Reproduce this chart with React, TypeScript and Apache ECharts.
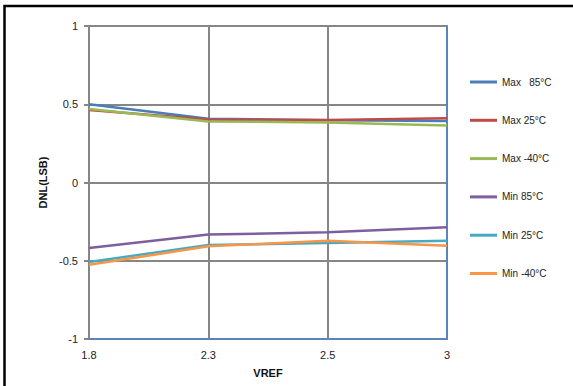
import React, { useEffect, useRef } from "react";
import * as echarts from "echarts";

const categories = ["1.8", "2.3", "2.5", "3"];
const max85 = [0.5, 0.408, 0.397, 0.393];
const max25 = [0.463, 0.402, 0.4, 0.41];
const maxM40 = [0.47, 0.39, 0.384, 0.365];
const min85 = [-0.419, -0.333, -0.318, -0.286];
const min25 = [-0.508, -0.4, -0.387, -0.372];
const minM40 = [-0.526, -0.408, -0.372, -0.404];
const seriesNames = ["Max   85°C", "Max 25°C", "Max -40°C", "Min 85°C", "Min 25°C", "Min -40°C"];
const seriesColors = ["#4a7ebb", "#be4b48", "#98b954", "#7d5fa0", "#46aac5", "#f79646"];
const seriesData = [max85, max25, maxM40, min85, min25, minM40];

export default function App() {
  const ref = useRef<HTMLDivElement>(null);
  useEffect(() => {
    if (!ref.current) return;
    const chart = echarts.init(ref.current, null, { renderer: "svg" });
    const font = "Liberation Sans, Arial, sans-serif";
    chart.setOption({
      animation: false,
      backgroundColor: "#ffffff",
      textStyle: { fontFamily: font },
      grid: { left: 89, right: 126, top: 26, bottom: 47, containLabel: false },
      legend: {
        orient: "vertical",
        left: 470,
        top: 75,
        padding: 0,
        icon: "rect",
        itemWidth: 27,
        itemHeight: 3,
        itemGap: 24.3,
        textStyle: { fontSize: 10, color: "#222", fontFamily: font, height: 14, lineHeight: 14 },
        data: seriesNames,
      },
      xAxis: {
        type: "category",
        data: categories,
        boundaryGap: false,
        name: "VREF",
        nameLocation: "middle",
        nameGap: 28,
        nameTextStyle: { fontSize: 11, fontWeight: "bold", color: "#111", fontFamily: font },
        axisLine: { show: true, onZero: false, lineStyle: { color: "#5b84b9", width: 2 } },
        axisTick: { show: false },
        axisLabel: { fontSize: 11, color: "#222", margin: 10, fontFamily: font },
        splitLine: { show: true, lineStyle: { color: "#868686", width: 2 } },
      },
      yAxis: [
        {
          type: "value",
          min: -1,
          max: 1,
          interval: 0.5,
          name: "DNL(LSB)",
          nameLocation: "middle",
          nameGap: 39,
          nameRotate: 90,
          nameTextStyle: { fontSize: 11, fontWeight: "bold", color: "#111", fontFamily: font },
          axisLine: { show: true, lineStyle: { color: "#868686", width: 2 } },
          axisTick: { show: true, length: 5, lineStyle: { color: "#868686", width: 2 } },
          axisLabel: { fontSize: 11, color: "#222", margin: 11, fontFamily: font },
          splitLine: { show: true, lineStyle: { color: "#868686", width: 2 } },
        },
        {
          type: "value",
          min: -1,
          max: 1,
          interval: 0.5,
          position: "right",
          axisLine: { show: true, lineStyle: { color: "#5b84b9", width: 2 } },
          axisTick: { show: false },
          axisLabel: { show: false },
          splitLine: { show: false },
        },
      ],
      graphic: [
        {
          type: "rect",
          shape: { x: 4.5, y: 6, width: 620, height: 420 },
          style: { fill: "none", stroke: "#000", lineWidth: 2.5 },
          silent: true,
        },
      ],
      series: seriesNames.map((name, i) => ({
        name,
        type: "line",
        data: seriesData[i],
        symbol: "none",
        color: seriesColors[i],
        lineStyle: { width: 2.5, color: seriesColors[i] },
      })),
    });
    return () => chart.dispose();
  }, []);
  return (
    <div
      ref={ref}
      style={{ position: "fixed", left: 0, top: 0, width: 573, height: 386 }}
    />
  );
}
